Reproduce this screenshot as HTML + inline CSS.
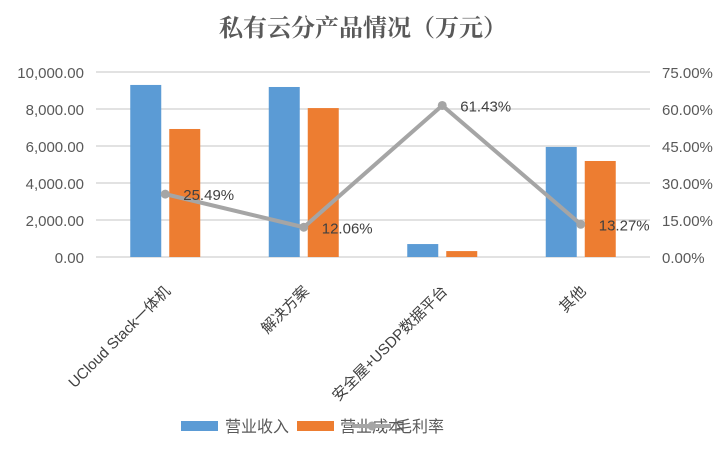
<!DOCTYPE html>
<html><head><meta charset="utf-8"><style>
body{margin:0;background:#fff;width:727px;height:445px;overflow:hidden}
svg{font-family:"Liberation Sans","Noto Sans CJK SC",sans-serif}
</style></head><body>
<svg id="chart" width="727" height="445" xmlns="http://www.w3.org/2000/svg">
<text x="363" y="36" text-anchor="middle" font-size="24" fill="#595959" font-family="'Liberation Serif','Noto Serif CJK SC',serif" font-weight="bold">私有云分产品情况（万元）</text>
<g id="grid"></g><g id="bars"></g><g id="line"></g><g id="labels"></g>
<g>
<rect x="181" y="421" width="37" height="10" fill="#5b9bd5"/>
<text x="225" y="432" font-size="16" fill="#595959">营业收入</text>
<rect x="297" y="421" width="37" height="10" fill="#ed7d31"/>
<text x="340" y="432" font-size="16" fill="#595959">营业成本</text>
<line x1="352" y1="426" x2="391" y2="426" stroke="#a5a5a5" stroke-width="4"/>
<circle cx="372" cy="426" r="4.5" fill="#a5a5a5"/>
<text x="396" y="432" font-size="16" fill="#595959">毛利率</text>
</g>
</svg>
<script>
const categories=["UCloud Stack一体机","解决方案","安全屋+USDP数据平台","其他"];
const revenue=[9300,9190,700,5950];
const cost=[6920,8050,320,5190];
const margin=[25.49,12.06,61.43,13.27];
const leftTicks=["0.00","2,000.00","4,000.00","6,000.00","8,000.00","10,000.00"];
const rightTicks=["0.00%","15.00%","30.00%","45.00%","60.00%","75.00%"];
const NS="http://www.w3.org/2000/svg";
const x0=96,x1=650,yB=257,yT=72;
const yL=v=>yB-(v/10000)*(yB-yT);
const yR=v=>yB-(v/75)*(yB-yT);
const cx=i=>x0+(x1-x0)/categories.length*(i+0.5);
function mk(t,a,p){const e=document.createElementNS(NS,t);for(const k in a)e.setAttribute(k,a[k]);document.getElementById(p).appendChild(e);return e;}
leftTicks.forEach((t,i)=>{const y=yB-i*(yB-yT)/5;
 const g=mk('line',{x1:x0,x2:x1,y1:y,y2:y,stroke:'#d9d9d9','stroke-width':1.5},'grid');
 
 
 const a=mk('text',{x:84,y:y+6,'text-anchor':'end','font-size':15,fill:'#595959'},'grid');a.textContent=t;
 
 
 const b=mk('text',{x:662,y:y+6,'font-size':15,fill:'#595959'},'grid');b.textContent=rightTicks[i];
 
 
});
categories.forEach((c,i)=>{
 const r=mk('rect',{x:cx(i)-35,y:yL(revenue[i]),width:31,height:yB-yL(revenue[i]),fill:'#5b9bd5'},'bars');
 
 
 const o=mk('rect',{x:cx(i)+4,y:yL(cost[i]),width:31,height:yB-yL(cost[i]),fill:'#ed7d31'},'bars');
 
 
 const t=mk('text',{'text-anchor':'end','font-size':15,fill:'#404040',transform:`translate(${cx(i)+6},292) rotate(-45)`},'labels');
 t.textContent=c;
 
 
});
const pl=mk('polyline',{points:margin.map((m,i)=>cx(i)+','+yR(m)).join(' '),fill:'none',stroke:'#a5a5a5','stroke-width':4},'line');


margin.forEach((m,i)=>{
 const c=mk('circle',{cx:cx(i),cy:yR(m),r:4.5,fill:'#a5a5a5'},'line');
 
 
 const t=mk('text',{x:cx(i)+18,y:yR(m)+6,'font-size':15,fill:'#404040'},'line');
 t.textContent=m.toFixed(2)+'%';
 
 
});
</script>
</body></html>
